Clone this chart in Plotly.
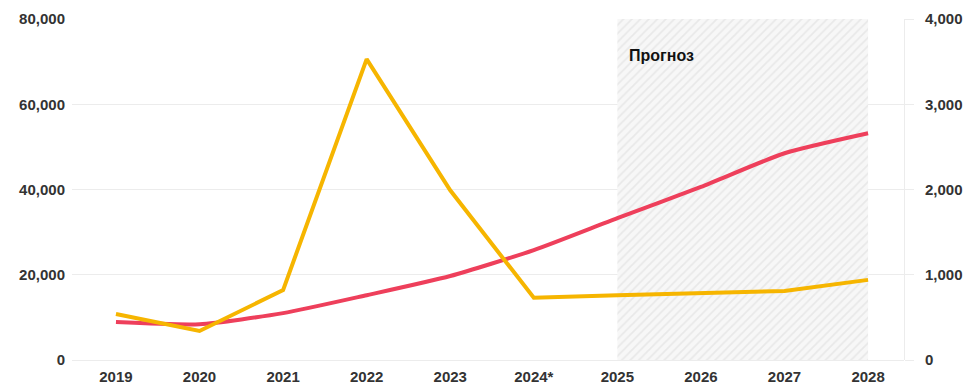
import plotly.graph_objects as go

years = ["2019", "2020", "2021", "2022", "2023", "2024*", "2025", "2026", "2027", "2028"]
red_values = [8900, 8400, 11000, 15200, 19700, 25800, 33300, 40600, 48500, 53200]
yellow_values = [540, 340, 820, 3530, 1990, 730, 760, 785, 810, 940]
left_ticks = [0, 20000, 40000, 60000, 80000]
right_ticks = [0, 1000, 2000, 3000, 4000]
forecast_start = "2025"
forecast_end = "2028"
forecast_label = "Прогноз"

xs = list(range(len(years)))
i0 = years.index(forecast_start)
i1 = years.index(forecast_end)

fig = go.Figure()

# hatched forecast band
fig.add_trace(go.Scatter(
    x=[i0, i1, i1, i0, i0], y=[0, 0, 80000, 80000, 0],
    mode="lines", line=dict(width=0), fill="toself",
    fillcolor="rgba(0,0,0,0)",
    fillpattern=dict(shape="/", fgcolor="#dadada", bgcolor="#f7f7f7", size=6, solidity=0.3),
    hoverinfo="skip", showlegend=False,
))

fig.add_trace(go.Scatter(
    x=xs, y=red_values, mode="lines",
    line=dict(color="#EE3F5B", width=4, shape="spline", smoothing=0.6),
    showlegend=False,
))

fig.add_trace(go.Scatter(
    x=xs, y=yellow_values, mode="lines", yaxis="y2",
    line=dict(color="#F6B500", width=4),
    showlegend=False,
))

fig.add_annotation(
    x=i0 + 0.12, y=71500, xref="x", yref="y", text=forecast_label,
    showarrow=False, xanchor="left", yanchor="middle",
    font=dict(family="Liberation Sans", size=16, color="#111", weight="bold"),
)

tick_font = dict(family="Liberation Sans", size=15, color="#333", weight="bold")

fig.update_layout(
    width=965, height=387,
    margin=dict(l=72, r=61, t=19, b=27),
    paper_bgcolor="white", plot_bgcolor="white",
    xaxis=dict(
        range=[-0.526, 9.43], tickmode="array", tickvals=xs, ticktext=years,
        showgrid=False, zeroline=False, showline=False, ticks="",
        tickfont=tick_font, ticklabelstandoff=6, automargin=False,
    ),
    yaxis=dict(
        range=[0, 80000], tickvals=left_ticks, tickformat=",",
        showgrid=True, gridcolor="#ececec", gridwidth=1,
        zeroline=True, zerolinecolor="#ececec", zerolinewidth=1,
        showline=False, ticks="",
        tickfont=tick_font, ticklabelstandoff=6, automargin=False,
    ),
    yaxis2=dict(
        range=[0, 4000], tickvals=right_ticks, tickformat=",",
        overlaying="y", side="right",
        showgrid=False, zeroline=False,
        showline=True, linecolor="#ececec", linewidth=1,
        ticks="outside", ticklen=9, tickcolor="#ececec",
        tickfont=tick_font, ticklabelstandoff=8, automargin=False,
    ),
)

fig.write_html("out.html")
